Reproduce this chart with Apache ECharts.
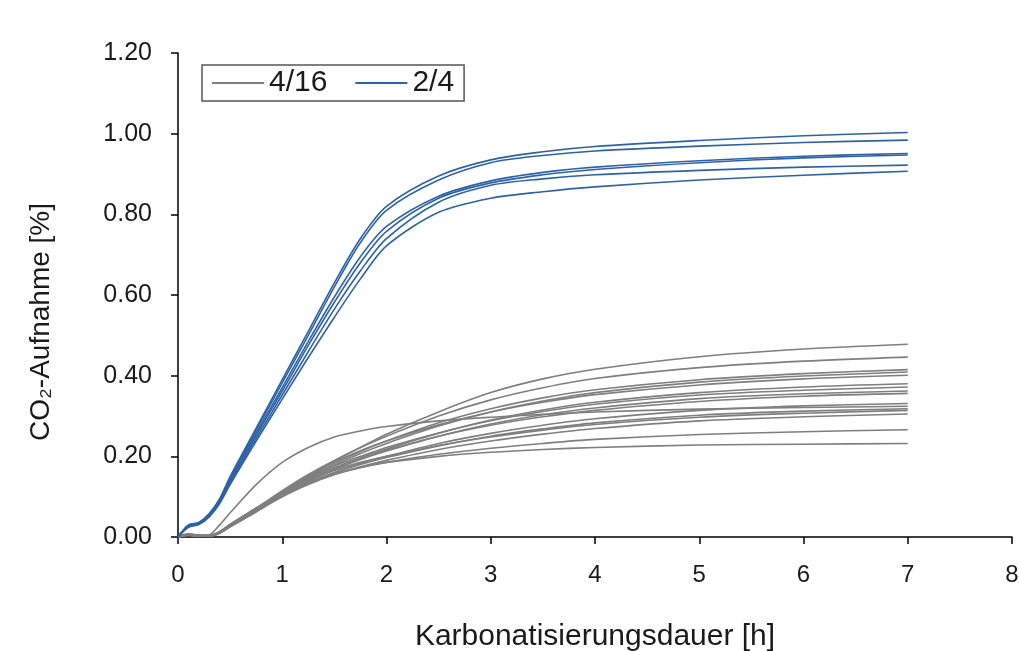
<!DOCTYPE html>
<html>
<head>
<meta charset="utf-8">
<script src="https://cdn.jsdelivr.net/npm/echarts@6/dist/echarts.min.js"></script>
<style>
  html, body { margin: 0; padding: 0; background: #ffffff; }
  #chart { width: 1019px; height: 651px; }
</style>
</head>
<body>
<div id="chart"></div>
<script>
// Carbonation time in hours (shared sampling for all runs)
const hours = [0, 0.1, 0.2, 0.3, 0.4, 0.5, 0.75, 1, 1.25, 1.5, 1.75, 2, 2.5, 3, 3.5, 4, 5, 6, 7];

// CO2 uptake [%] — runs of mix 4/16
const mix416 = [
  [0, 0.008, 0.004, 0.003, 0.012, 0.030, 0.070, 0.112, 0.150, 0.188, 0.222, 0.255, 0.310, 0.358, 0.392, 0.416, 0.447, 0.466, 0.478],
  [0, 0.006, 0.003, 0.004, 0.014, 0.032, 0.072, 0.115, 0.155, 0.190, 0.222, 0.250, 0.300, 0.340, 0.370, 0.393, 0.420, 0.436, 0.446],
  [0, 0.007, 0.004, 0.003, 0.013, 0.030, 0.070, 0.110, 0.148, 0.182, 0.212, 0.238, 0.283, 0.318, 0.345, 0.365, 0.390, 0.405, 0.415],
  [0, 0.006, 0.003, 0.003, 0.012, 0.028, 0.068, 0.108, 0.145, 0.178, 0.207, 0.232, 0.275, 0.310, 0.337, 0.358, 0.384, 0.399, 0.409],
  [0, 0.005, 0.002, 0.002, 0.010, 0.026, 0.066, 0.112, 0.152, 0.186, 0.214, 0.238, 0.278, 0.310, 0.334, 0.353, 0.377, 0.392, 0.401],
  [0, 0.006, 0.003, 0.003, 0.011, 0.027, 0.066, 0.105, 0.140, 0.170, 0.196, 0.218, 0.257, 0.290, 0.315, 0.334, 0.358, 0.372, 0.380],
  [0, 0.007, 0.004, 0.004, 0.012, 0.029, 0.070, 0.110, 0.146, 0.176, 0.200, 0.222, 0.258, 0.288, 0.311, 0.329, 0.352, 0.364, 0.372],
  [0, 0.005, 0.002, 0.002, 0.010, 0.026, 0.064, 0.103, 0.138, 0.167, 0.192, 0.213, 0.250, 0.280, 0.303, 0.320, 0.343, 0.355, 0.362],
  [0, 0.006, 0.003, 0.003, 0.011, 0.028, 0.068, 0.108, 0.143, 0.172, 0.196, 0.216, 0.250, 0.277, 0.298, 0.314, 0.336, 0.349, 0.356],
  [0, 0.005, 0.002, 0.002, 0.009, 0.025, 0.062, 0.100, 0.133, 0.160, 0.182, 0.200, 0.232, 0.257, 0.277, 0.293, 0.314, 0.325, 0.331],
  [0, 0.004, 0.002, 0.005, 0.030, 0.060, 0.130, 0.185, 0.222, 0.248, 0.263, 0.274, 0.288, 0.297, 0.304, 0.310, 0.317, 0.321, 0.324],
  [0, 0.006, 0.003, 0.003, 0.010, 0.026, 0.064, 0.102, 0.134, 0.160, 0.180, 0.197, 0.226, 0.250, 0.268, 0.283, 0.302, 0.312, 0.318],
  [0, 0.007, 0.004, 0.004, 0.012, 0.030, 0.070, 0.108, 0.140, 0.165, 0.185, 0.200, 0.227, 0.248, 0.265, 0.279, 0.297, 0.307, 0.314],
  [0, 0.006, 0.003, 0.003, 0.011, 0.027, 0.066, 0.100, 0.130, 0.155, 0.174, 0.190, 0.217, 0.238, 0.255, 0.269, 0.288, 0.298, 0.305],
  [0, 0.006, 0.003, 0.003, 0.011, 0.028, 0.070, 0.105, 0.133, 0.155, 0.172, 0.185, 0.205, 0.220, 0.232, 0.242, 0.254, 0.261, 0.266],
  [0, 0.007, 0.004, 0.004, 0.012, 0.030, 0.072, 0.108, 0.136, 0.157, 0.173, 0.185, 0.200, 0.210, 0.217, 0.222, 0.228, 0.230, 0.232]
];

// CO2 uptake [%] — runs of mix 2/4
const mix24 = [
  [0, 0.030, 0.036, 0.058, 0.095, 0.150, 0.270, 0.390, 0.510, 0.630, 0.740, 0.820, 0.895, 0.935, 0.955, 0.968, 0.983, 0.995, 1.003],
  [0, 0.028, 0.034, 0.056, 0.093, 0.146, 0.265, 0.382, 0.500, 0.620, 0.730, 0.810, 0.885, 0.928, 0.946, 0.957, 0.969, 0.978, 0.984],
  [0, 0.027, 0.034, 0.055, 0.090, 0.142, 0.258, 0.370, 0.485, 0.595, 0.695, 0.770, 0.845, 0.883, 0.904, 0.917, 0.933, 0.944, 0.951],
  [0, 0.026, 0.033, 0.054, 0.088, 0.138, 0.252, 0.362, 0.475, 0.582, 0.680, 0.758, 0.840, 0.878, 0.898, 0.911, 0.928, 0.940, 0.947],
  [0, 0.025, 0.032, 0.052, 0.086, 0.135, 0.245, 0.352, 0.460, 0.565, 0.660, 0.740, 0.830, 0.872, 0.888, 0.898, 0.909, 0.917, 0.922],
  [0, 0.024, 0.031, 0.050, 0.083, 0.130, 0.238, 0.342, 0.445, 0.545, 0.640, 0.722, 0.805, 0.840, 0.856, 0.868, 0.885, 0.897, 0.907]
];

const xTicks = { min: 0, max: 8, step: 1 };
const yTicks = { min: 0, max: 1.2, step: 0.2 };

const GRAY = '#7f7f7f';
const BLUE = '#2e62a6';
const FONT = 'Liberation Sans, Arial, sans-serif';

function toLine(name, values, color) {
  return {
    name: name,
    type: 'line',
    data: hours.map((h, i) => [h, values[i]]),
    showSymbol: false,
    symbol: 'none',
    smooth: 0.3,
    clip: true,
    lineStyle: { color: color, width: 1.6 },
    itemStyle: { color: color },
    emphasis: { disabled: true },
    silent: true
  };
}

const seriesList = []
  .concat(mix416.map(v => toLine('4/16', v, GRAY)))
  .concat(mix24.map(v => toLine('2/4', v, BLUE)));

const chart = echarts.init(document.getElementById('chart'), null, { renderer: 'canvas' });
chart.setOption({
  animation: false,
  backgroundColor: '#ffffff',
  textStyle: { fontFamily: FONT },
  grid: { left: 178, right: 7, top: 53, bottom: 114, containLabel: false, outerBoundsMode: 'none' },
  legend: {
    data: ['4/16', '2/4'],
    left: 202,
    top: 65,
    orient: 'horizontal',
    icon: 'rect',
    itemWidth: 52,
    itemHeight: 2,
    itemGap: 28,
    padding: [3, 10, 3, 10],
    borderColor: '#555555',
    borderWidth: 1.5,
    textStyle: { fontFamily: FONT, fontSize: 30, color: '#1a1a1a' }
  },
  // y-axis title, drawn as free text so it can sit slightly below the axis centre
  graphic: [{
    type: 'text',
    x: 41,
    y: 322,
    rotation: Math.PI / 2,
    style: {
      text: 'CO\u2082-Aufnahme [%]',
      fontFamily: FONT,
      fontSize: 28,
      fill: '#1a1a1a',
      textAlign: 'center',
      textVerticalAlign: 'middle'
    }
  }],
  xAxis: {
    type: 'value',
    min: xTicks.min,
    max: xTicks.max,
    interval: xTicks.step,
    name: 'Karbonatisierungsdauer [h]',
    nameLocation: 'middle',
    nameGap: 85,
    nameTextStyle: { fontFamily: FONT, fontSize: 30, color: '#1a1a1a' },
    axisLine: { show: true, lineStyle: { color: '#000000', width: 1.5 } },
    axisTick: { show: true, inside: false, length: 7, lineStyle: { color: '#000000', width: 1.5 } },
    axisLabel: { fontFamily: FONT, fontSize: 24, color: '#1a1a1a', margin: 26 },
    splitLine: { show: false }
  },
  yAxis: {
    type: 'value',
    min: yTicks.min,
    max: yTicks.max,
    interval: yTicks.step,
    axisLine: { show: true, lineStyle: { color: '#000000', width: 1.5 } },
    axisTick: { show: true, inside: false, length: 7, lineStyle: { color: '#000000', width: 1.5 } },
    axisLabel: {
      fontFamily: FONT, fontSize: 25, color: '#1a1a1a', margin: 26,
      formatter: v => v.toFixed(2)
    },
    splitLine: { show: false }
  },
  series: seriesList
});
</script>
</body>
</html>
